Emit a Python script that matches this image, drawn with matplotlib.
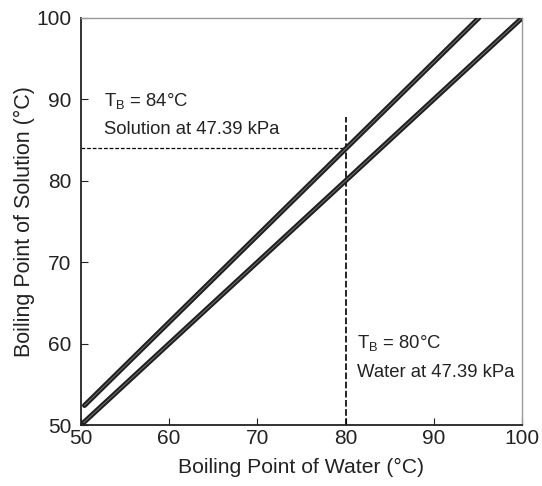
import matplotlib
matplotlib.use("Agg")
import matplotlib.pyplot as plt

plt.rcParams['font.family'] = ['Liberation Sans', 'DejaVu Sans']

# --------- DATA ----------
water_x = [50.3, 100]
water_y = [50.3, 100]
solution_x = [50.4, 95.1]
solution_y = [52.4, 100]

tb_water = 80
tb_solution = 84
vline_top = 87.8

ticks = [50, 60, 70, 80, 90, 100]

# --------- FIGURE ----------
fig = plt.figure(figsize=(5.42, 4.86), dpi=100)
ax = fig.add_axes([0.1494, 0.1255, 0.8136, 0.8375])

for xs, ys in [(water_x, water_y), (solution_x, solution_y)]:
    ax.plot(xs, ys, color='#1e1e1e', lw=3.6, solid_capstyle='round', zorder=3)
    ax.plot(xs, ys, color='#6a6a6a', lw=0.8, solid_capstyle='round', zorder=4)

# dashed guide lines
ax.plot([50, tb_water], [tb_solution, tb_solution], color='black', lw=0.9,
        ls=(0, (3, 1.5)), zorder=2)
ax.plot([tb_water, tb_water], [50, vline_top], color='black', lw=1.2,
        ls=(0, (4, 1.5)), zorder=2)

# annotations
ax.text(52.6, 89.8, r'T$_\mathregular{B}$ = 84°C', fontsize=13.3, va='center', color='#222222')
ax.text(52.6, 86.3, 'Solution at 47.39 kPa', fontsize=13.3, va='center', color='#222222')
ax.text(81.3, 60.1, r'T$_\mathregular{B}$ = 80°C', fontsize=13.3, va='center', color='#222222')
ax.text(81.3, 56.5, 'Water at 47.39 kPa', fontsize=13.3, va='center', color='#222222')

ax.set_xlim(50, 100)
ax.set_ylim(50, 100)
ax.set_xticks(ticks)
ax.set_yticks(ticks)
ax.tick_params(direction='in', length=5, labelsize=15, colors='#222222',
               top=False, right=False)
ax.tick_params(axis='x', pad=3)
ax.tick_params(axis='y', pad=7)

for side in ['left', 'bottom']:
    ax.spines[side].set_color('#222222')
    ax.spines[side].set_linewidth(1.3)
for side in ['top', 'right']:
    ax.spines[side].set_color('#999999')
    ax.spines[side].set_linewidth(1.0)

ax.set_xlabel('Boiling Point of Water (°C)', fontsize=15.2, color='#222222', labelpad=7)
ax.set_ylabel('Boiling Point of Solution (°C)', fontsize=15.5, color='#222222', labelpad=1)

fig.savefig('out.png', dpi=100)
